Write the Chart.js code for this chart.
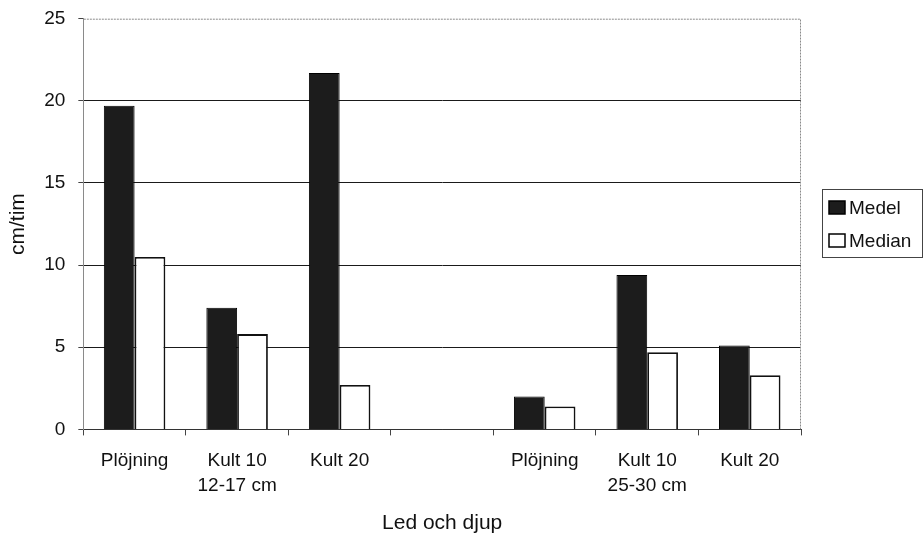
<!DOCTYPE html>
<html>
<head>
<meta charset="utf-8">
<script src="https://cdn.jsdelivr.net/npm/chart.js@4/dist/chart.umd.min.js"></script>
<style>
  html, body { margin: 0; padding: 0; background: #fff; }
  #wrap { width: 923px; height: 539px; }
</style>
</head>
<body>
<div id="wrap"><canvas id="chart" width="923" height="539"></canvas></div>
<script>
// Chart data
const categories = ['Plöjning', ['Kult 10', '12-17 cm'], 'Kult 20', '', 'Plöjning', ['Kult 10', '25-30 cm'], 'Kult 20'];
const medel = [19.7, 7.4, 21.7, null, 2.0, 9.4, 5.1];
const median = [10.5, 5.8, 2.7, null, 1.4, 4.7, 3.3];
const seriesNames = ['Medel', 'Median'];
const yMin = 0, yMax = 25, yStep = 5;

const FONT = '"Liberation Sans", Arial, Helvetica, sans-serif';
const INK = '#111';

// Grey dotted frame on top/right of the plot area
const framePlugin = {
    id: 'frame',
    beforeDatasetsDraw(chart) {
        const { ctx, chartArea: a } = chart;
        ctx.save();
        ctx.strokeStyle = '#8a8a8a';
        ctx.lineWidth = 1;
        ctx.setLineDash([2, 1]);
        ctx.beginPath();
        ctx.moveTo(a.left + 0.5, a.top + 0.5);
        ctx.lineTo(a.right - 0.5, a.top + 0.5);
        ctx.lineTo(a.right - 0.5, a.bottom);
        ctx.stroke();
        ctx.restore();
    }
};

// Boxed legend at the right, like the original
const boxLegend = {
    id: 'boxLegend',
    afterDraw(chart) {
        const { ctx } = chart;
        const x = 822, y = 189, w = 100, h = 68;
        ctx.save();
        ctx.strokeStyle = '#444';
        ctx.lineWidth = 1;
        ctx.strokeRect(x + 0.5, y + 0.5, w, h);
        ctx.font = '19px ' + FONT;
        ctx.textBaseline = 'middle';
        chart.data.datasets.forEach((ds, i) => {
            const cy = 208 + i * 33;
            ctx.fillStyle = ds.backgroundColor;
            ctx.fillRect(829, cy - 7, 16, 13);
            ctx.strokeStyle = '#000';
            ctx.lineWidth = 1.5;
            ctx.strokeRect(829, cy - 7, 16, 13);
            ctx.fillStyle = INK;
            ctx.fillText(ds.label, 849, cy + 1);
        });
        ctx.restore();
    }
};

new Chart(document.getElementById('chart'), {
    type: 'bar',
    data: {
        labels: categories,
        datasets: [
            {
                label: seriesNames[0],
                data: medel,
                backgroundColor: '#1c1c1c',
                borderColor: '#000',
                borderWidth: 1
            },
            {
                label: seriesNames[1],
                data: median,
                backgroundColor: '#ffffff',
                borderColor: '#111',
                borderWidth: 1.8
            }
        ]
    },
    options: {
        responsive: false,
        animation: false,
        categoryPercentage: 0.6,
        barPercentage: 1.0,
        layout: { padding: { left: 6, right: 122, top: 5, bottom: 1 } },
        plugins: {
            legend: { display: false },
            tooltip: { enabled: false }
        },
        scales: {
            x: {
                grid: {
                    offset: true,
                    drawOnChartArea: false,
                    drawTicks: true,
                    tickLength: 6,
                    tickColor: '#444'
                },
                border: { display: true, color: '#333', width: 1 },
                ticks: {
                    color: INK,
                    padding: 13,
                    maxRotation: 0,
                    autoSkip: false,
                    font: { family: FONT, size: 19, lineHeight: 1.3 }
                },
                title: {
                    display: true,
                    text: 'Led och djup',
                    color: INK,
                    padding: { top: 0, bottom: 2 },
                    font: { family: FONT, size: 21 }
                }
            },
            y: {
                min: yMin,
                max: yMax,
                grid: {
                    color: (c) => c.tick && c.tick.value === yMax ? 'rgba(0,0,0,0)' : '#1a1a1a',
                    tickColor: '#444',
                    tickLength: 5,
                    lineWidth: 1
                },
                border: { display: true, color: '#8a8a8a', width: 1 },
                ticks: {
                    stepSize: yStep,
                    color: INK,
                    padding: 13,
                    font: { family: FONT, size: 19, lineHeight: 0.6 }
                },
                title: {
                    display: true,
                    text: 'cm/tim',
                    color: INK,
                    padding: { top: 0, bottom: 0 },
                    font: { family: FONT, size: 21 }
                }
            }
        }
    },
    plugins: [framePlugin, boxLegend]
});
</script>
</body>
</html>
